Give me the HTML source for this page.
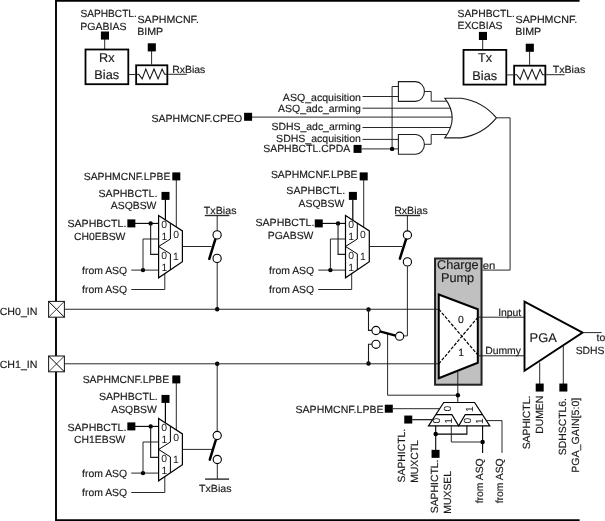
<!DOCTYPE html>
<html><head><meta charset="utf-8"><title>PGA input block diagram</title>
<style>
html,body{margin:0;padding:0;background:#fff;}
body{width:605px;height:521px;overflow:hidden;}
svg{display:block;will-change:transform;font-family:"Liberation Sans",sans-serif;}
svg text{fill:#1a1a1a;stroke:#1a1a1a;stroke-width:0.16px;text-rendering:geometricPrecision;}
svg text.d{stroke:none;}
</style></head><body>
<svg width="605" height="521" viewBox="0 0 605 521">
<rect x="0" y="0" width="605" height="521" fill="#fff"/>
<path d="M579.60,0.90 L56.00,0.90 L56.00,520.25 L579.60,520.25" fill="none" stroke="#000" stroke-width="1.9" stroke-linejoin="miter"/>
<text x="80.43" y="17.00" font-size="10.4" text-anchor="start"  textLength="56.42" lengthAdjust="spacingAndGlyphs">SAPHBCTL.</text>
<text x="80.35" y="30.00" font-size="10.4" text-anchor="start"  textLength="46.13" lengthAdjust="spacingAndGlyphs">PGABIAS</text>
<text x="137.53" y="23.00" font-size="10.4" text-anchor="start"  textLength="61.32" lengthAdjust="spacingAndGlyphs">SAPHMCNF.</text>
<text x="137.15" y="35.00" font-size="10.4" text-anchor="start"  textLength="26.10" lengthAdjust="spacingAndGlyphs">BIMP</text>
<path d="M104.70,39.00 L104.70,49.00" fill="none" stroke="#1c1c1c" stroke-width="0.95" />
<rect x="100.90" y="31.50" width="8.1" height="8.1" fill="#000"/>
<rect x="85.50" y="49.50" width="42.8" height="34.7" fill="#fff" stroke="#000" stroke-width="1.8"/>
<text x="106.75" y="62.00" font-size="12.7" text-anchor="middle" >Rx</text>
<text x="106.71" y="79.00" font-size="12.7" text-anchor="middle" >Bias</text>
<path d="M129.20,74.50 L135.30,74.50" fill="none" stroke="#1c1c1c" stroke-width="0.95" />
<rect x="136.15" y="65.30" width="31.2" height="18.9" fill="#fff" stroke="#000" stroke-width="1.8"/>
<path d="M136.20,74.30 L138.70,74.30 L142.20,78.90 L145.80,69.00 L149.90,78.90 L154.00,69.00 L158.10,78.90 L162.10,69.00 L164.60,74.30 L167.00,74.30" fill="none" stroke="#1c1c1c" stroke-width="1.1" stroke-linejoin="miter"/>
<path d="M151.60,51.00 L151.60,64.50" fill="none" stroke="#1c1c1c" stroke-width="0.95" />
<rect x="147.75" y="43.30" width="8.1" height="8.1" fill="#000"/>
<path d="M168.20,74.30 L186.90,74.30" fill="none" stroke="#1c1c1c" stroke-width="0.95" />
<text x="172.15" y="73.00" font-size="10.4" text-anchor="start"  textLength="33.23" lengthAdjust="spacingAndGlyphs">RxBias</text>
<text x="457.58" y="17.00" font-size="10.4" text-anchor="start"  textLength="57.42" lengthAdjust="spacingAndGlyphs">SAPHBCTL.</text>
<text x="457.50" y="29.00" font-size="10.4" text-anchor="start"  textLength="45.03" lengthAdjust="spacingAndGlyphs">EXCBIAS</text>
<text x="515.53" y="23.00" font-size="10.4" text-anchor="start"  textLength="61.72" lengthAdjust="spacingAndGlyphs">SAPHMCNF.</text>
<text x="515.15" y="35.00" font-size="10.4" text-anchor="start"  textLength="26.10" lengthAdjust="spacingAndGlyphs">BIMP</text>
<path d="M482.70,39.40 L482.70,49.40" fill="none" stroke="#1c1c1c" stroke-width="0.95" />
<rect x="478.90" y="31.90" width="8.1" height="8.1" fill="#000"/>
<rect x="463.50" y="49.90" width="42.8" height="34.7" fill="#fff" stroke="#000" stroke-width="1.8"/>
<text x="485.13" y="62.00" font-size="12.7" text-anchor="middle" >Tx</text>
<text x="484.71" y="80.00" font-size="12.7" text-anchor="middle" >Bias</text>
<path d="M507.20,74.90 L513.30,74.90" fill="none" stroke="#1c1c1c" stroke-width="0.95" />
<rect x="514.15" y="65.70" width="31.2" height="18.9" fill="#fff" stroke="#000" stroke-width="1.8"/>
<path d="M514.20,74.70 L516.70,74.70 L520.20,79.30 L523.80,69.40 L527.90,79.30 L532.00,69.40 L536.10,79.30 L540.10,69.40 L542.60,74.70 L545.00,74.70" fill="none" stroke="#1c1c1c" stroke-width="1.1" stroke-linejoin="miter"/>
<path d="M529.60,51.40 L529.60,64.90" fill="none" stroke="#1c1c1c" stroke-width="0.95" />
<rect x="525.75" y="43.70" width="8.1" height="8.1" fill="#000"/>
<path d="M546.20,74.70 L564.70,74.70" fill="none" stroke="#1c1c1c" stroke-width="0.95" />
<text x="552.67" y="73.00" font-size="10.4" text-anchor="start"  textLength="32.61" lengthAdjust="spacingAndGlyphs">TxBias</text>
<text x="360.88" y="101.00" font-size="10.4" text-anchor="end"  textLength="78.00" lengthAdjust="spacingAndGlyphs">ASQ_acquisition</text>
<text x="360.87" y="112.00" font-size="10.4" text-anchor="end"  textLength="82.89" lengthAdjust="spacingAndGlyphs">ASQ_adc_arming</text>
<text x="360.87" y="130.00" font-size="10.4" text-anchor="end"  textLength="89.44" lengthAdjust="spacingAndGlyphs">SDHS_adc_arming</text>
<text x="360.88" y="142.00" font-size="10.4" text-anchor="end"  textLength="84.75" lengthAdjust="spacingAndGlyphs">SDHS_acquisition</text>
<text x="350.22" y="152.00" font-size="10.4" text-anchor="end"  textLength="86.99" lengthAdjust="spacingAndGlyphs">SAPHBCTL.CPDA</text>
<text x="242.30" y="122.00" font-size="10.4" text-anchor="end"  textLength="90.77" lengthAdjust="spacingAndGlyphs">SAPHMCNF.CPEO</text>
<rect x="244.10" y="112.80" width="8" height="8" fill="#000"/>
<rect x="353.55" y="144.90" width="8" height="8" fill="#000"/>
<path d="M362.50,96.50 L398.40,96.50" fill="none" stroke="#1c1c1c" stroke-width="0.95" />
<path d="M362.50,108.20 L451.80,108.20" fill="none" stroke="#1c1c1c" stroke-width="0.95" />
<path d="M252.00,117.10 L452.30,117.10" fill="none" stroke="#1c1c1c" stroke-width="0.95" />
<path d="M362.50,127.50 L451.80,127.50" fill="none" stroke="#1c1c1c" stroke-width="0.95" />
<path d="M362.50,139.40 L398.40,139.40" fill="none" stroke="#1c1c1c" stroke-width="0.95" />
<path d="M361.60,148.90 L398.40,148.90" fill="none" stroke="#1c1c1c" stroke-width="0.95" />
<path d="M398.40,86.50 L392.10,86.50 L392.10,148.90" fill="none" stroke="#1c1c1c" stroke-width="0.95" />
<circle cx="392.10" cy="148.90" r="2.2" fill="#000"/>
<path d="M398.4,81.6 H415.50 A8.90,9.90 0 0 1 415.50,101.4 H398.4 Z" fill="#fff" stroke="#1c1c1c" stroke-width="1.1"/>
<path d="M398.4,134.5 H415.50 A8.90,9.90 0 0 1 415.50,154.3 H398.4 Z" fill="#fff" stroke="#1c1c1c" stroke-width="1.1"/>
<path d="M424.40,91.50 L431.20,91.50 L431.20,101.20 L447.50,101.20" fill="none" stroke="#1c1c1c" stroke-width="0.95" />
<path d="M424.40,144.30 L431.20,144.30 L431.20,134.50 L447.50,134.50" fill="none" stroke="#1c1c1c" stroke-width="0.95" />
<path d="M444.8,98.2 H461.3 Q483,101.5 496.4,117.9 Q483,134.5 461.3,137.9 H444.8 Q459.6,118 444.8,98.2 Z" fill="#fff" stroke="#1c1c1c" stroke-width="1.1"/>
<path d="M496.40,117.80 L510.10,117.80 L510.10,270.10 L482.50,270.10" fill="none" stroke="#1c1c1c" stroke-width="0.95" />
<text x="170.35" y="180.00" font-size="10.4" text-anchor="end" >SAPHMCNF.LPBE</text>
<path d="M176.30,180.00 L176.30,227.30" fill="none" stroke="#1c1c1c" stroke-width="0.95" />
<rect x="172.30" y="172.40" width="8" height="8" fill="#000"/>
<text x="157.35" y="197.00" font-size="10.4" text-anchor="end"  textLength="58.82" lengthAdjust="spacingAndGlyphs">SAPHBCTL.</text>
<text x="156.44" y="209.00" font-size="10.4" text-anchor="end" >ASQBSW</text>
<path d="M165.40,199.50 L165.40,220.00" fill="none" stroke="#000" stroke-width="1.2" />
<rect x="161.50" y="191.90" width="8" height="8" fill="#000"/>
<text x="126.35" y="227.00" font-size="10.4" text-anchor="end"  textLength="58.92" lengthAdjust="spacingAndGlyphs">SAPHBCTL.</text>
<text x="125.44" y="240.00" font-size="10.4" text-anchor="end" >CH0EBSW</text>
<path d="M131.35,223.40 L158.60,223.40" fill="none" stroke="#000" stroke-width="1.1" />
<rect x="127.35" y="219.40" width="8" height="8" fill="#000"/>
<circle cx="150.65" cy="223.40" r="2.2" fill="#000"/>
<path d="M150.65,223.40 L150.65,254.40 L159.00,254.40" fill="none" stroke="#1c1c1c" stroke-width="1.1" />
<text x="82.10" y="274.00" font-size="10.4" text-anchor="start" >from ASQ</text>
<text x="82.10" y="293.00" font-size="10.4" text-anchor="start" >from ASQ</text>
<path d="M131.25,270.10 L158.60,270.10" fill="none" stroke="#1c1c1c" stroke-width="0.95" />
<circle cx="143.00" cy="270.10" r="2.2" fill="#000"/>
<path d="M143.00,270.10 L143.00,239.00 L158.60,239.00" fill="none" stroke="#1c1c1c" stroke-width="0.95" />
<path d="M131.25,289.50 L164.80,289.50 L164.80,273.50" fill="none" stroke="#1c1c1c" stroke-width="0.95" />
<g transform="translate(158.6,215.4)">
<path d="M0,0 L23.8,15.5 V46.4 L0,62.4 Z" fill="#fff" stroke="#000" stroke-width="1.2" stroke-linejoin="miter"/>
<path d="M11.8,7.7 V23.6 L0,31.1 L11.8,38.5 V54.5" fill="none" stroke="#000" stroke-width="1.0"/>
<text x="5.6" y="12.4" font-size="10.4" text-anchor="middle" class="d">0</text>
<text x="5.7" y="24.4" font-size="10.4" text-anchor="middle" class="d">1</text>
<text x="5.6" y="43.5" font-size="10.4" text-anchor="middle" class="d">0</text>
<text x="5.7" y="55.6" font-size="10.4" text-anchor="middle" class="d">1</text>
<text x="17.5" y="22.3" font-size="10.4" text-anchor="middle" class="d">0</text>
<text x="17.3" y="44.6" font-size="10.4" text-anchor="middle" class="d">1</text>
</g>
<text x="357.55" y="178.00" font-size="10.4" text-anchor="end" >SAPHMCNF.LPBE</text>
<path d="M363.70,180.00 L363.70,227.30" fill="none" stroke="#1c1c1c" stroke-width="0.95" />
<rect x="359.70" y="172.40" width="8" height="8" fill="#000"/>
<text x="345.15" y="194.00" font-size="10.4" text-anchor="end"  textLength="58.82" lengthAdjust="spacingAndGlyphs">SAPHBCTL.</text>
<text x="344.24" y="207.00" font-size="10.4" text-anchor="end" >ASQBSW</text>
<path d="M352.80,199.50 L352.80,220.00" fill="none" stroke="#000" stroke-width="1.2" />
<rect x="348.90" y="191.90" width="8" height="8" fill="#000"/>
<text x="314.35" y="226.00" font-size="10.4" text-anchor="end"  textLength="58.92" lengthAdjust="spacingAndGlyphs">SAPHBCTL.</text>
<text x="313.44" y="239.00" font-size="10.4" text-anchor="end" >PGABSW</text>
<path d="M318.75,223.40 L345.50,223.40" fill="none" stroke="#000" stroke-width="1.1" />
<rect x="314.75" y="219.40" width="8" height="8" fill="#000"/>
<circle cx="338.05" cy="223.40" r="2.2" fill="#000"/>
<path d="M338.05,223.40 L338.05,254.40 L345.90,254.40" fill="none" stroke="#1c1c1c" stroke-width="1.1" />
<text x="269.10" y="274.00" font-size="10.4" text-anchor="start" >from ASQ</text>
<text x="269.10" y="293.00" font-size="10.4" text-anchor="start" >from ASQ</text>
<path d="M318.25,270.10 L345.50,270.10" fill="none" stroke="#1c1c1c" stroke-width="0.95" />
<circle cx="330.40" cy="270.10" r="2.2" fill="#000"/>
<path d="M330.40,270.10 L330.40,239.00 L345.50,239.00" fill="none" stroke="#1c1c1c" stroke-width="0.95" />
<path d="M318.25,289.50 L351.70,289.50 L351.70,273.50" fill="none" stroke="#1c1c1c" stroke-width="0.95" />
<g transform="translate(345.5,215.4)">
<path d="M0,0 L23.8,15.5 V46.4 L0,62.4 Z" fill="#fff" stroke="#000" stroke-width="1.2" stroke-linejoin="miter"/>
<path d="M11.8,7.7 V23.6 L0,31.1 L11.8,38.5 V54.5" fill="none" stroke="#000" stroke-width="1.0"/>
<text x="5.6" y="12.4" font-size="10.4" text-anchor="middle" class="d">0</text>
<text x="5.7" y="24.4" font-size="10.4" text-anchor="middle" class="d">1</text>
<text x="5.6" y="43.5" font-size="10.4" text-anchor="middle" class="d">0</text>
<text x="5.7" y="55.6" font-size="10.4" text-anchor="middle" class="d">1</text>
<text x="17.5" y="22.3" font-size="10.4" text-anchor="middle" class="d">0</text>
<text x="17.3" y="44.6" font-size="10.4" text-anchor="middle" class="d">1</text>
</g>
<text x="169.25" y="383.00" font-size="10.4" text-anchor="end" >SAPHMCNF.LPBE</text>
<path d="M176.30,383.00 L176.30,430.30" fill="none" stroke="#1c1c1c" stroke-width="0.95" />
<rect x="172.30" y="375.40" width="8" height="8" fill="#000"/>
<text x="157.75" y="400.00" font-size="10.4" text-anchor="end"  textLength="58.82" lengthAdjust="spacingAndGlyphs">SAPHBCTL.</text>
<text x="156.84" y="413.00" font-size="10.4" text-anchor="end" >ASQBSW</text>
<path d="M165.40,402.50 L165.40,423.00" fill="none" stroke="#000" stroke-width="1.2" />
<rect x="161.50" y="394.90" width="8" height="8" fill="#000"/>
<text x="126.35" y="431.00" font-size="10.4" text-anchor="end"  textLength="58.92" lengthAdjust="spacingAndGlyphs">SAPHBCTL.</text>
<text x="125.44" y="443.00" font-size="10.4" text-anchor="end" >CH1EBSW</text>
<path d="M131.35,426.40 L158.60,426.40" fill="none" stroke="#000" stroke-width="1.1" />
<rect x="127.35" y="422.40" width="8" height="8" fill="#000"/>
<circle cx="150.65" cy="426.40" r="2.2" fill="#000"/>
<path d="M150.65,426.40 L150.65,457.40 L159.00,457.40" fill="none" stroke="#1c1c1c" stroke-width="1.1" />
<text x="82.10" y="477.00" font-size="10.4" text-anchor="start" >from ASQ</text>
<text x="82.10" y="496.00" font-size="10.4" text-anchor="start" >from ASQ</text>
<path d="M131.25,473.10 L158.60,473.10" fill="none" stroke="#1c1c1c" stroke-width="0.95" />
<circle cx="143.00" cy="473.10" r="2.2" fill="#000"/>
<path d="M143.00,473.10 L143.00,442.00 L158.60,442.00" fill="none" stroke="#1c1c1c" stroke-width="0.95" />
<path d="M131.25,492.50 L164.80,492.50 L164.80,476.50" fill="none" stroke="#1c1c1c" stroke-width="0.95" />
<g transform="translate(158.6,418.4)">
<path d="M0,0 L23.8,15.5 V46.4 L0,62.4 Z" fill="#fff" stroke="#000" stroke-width="1.2" stroke-linejoin="miter"/>
<path d="M11.8,7.7 V23.6 L0,31.1 L11.8,38.5 V54.5" fill="none" stroke="#000" stroke-width="1.0"/>
<text x="5.6" y="12.4" font-size="10.4" text-anchor="middle" class="d">0</text>
<text x="5.7" y="24.4" font-size="10.4" text-anchor="middle" class="d">1</text>
<text x="5.6" y="43.5" font-size="10.4" text-anchor="middle" class="d">0</text>
<text x="5.7" y="55.6" font-size="10.4" text-anchor="middle" class="d">1</text>
<text x="17.5" y="22.3" font-size="10.4" text-anchor="middle" class="d">0</text>
<text x="17.3" y="44.6" font-size="10.4" text-anchor="middle" class="d">1</text>
</g>
<text x="203.87" y="214.00" font-size="10.4" text-anchor="start"  textLength="32.61" lengthAdjust="spacingAndGlyphs">TxBias</text>
<path d="M204.80,215.50 L229.30,215.50" fill="none" stroke="#2a2a2a" stroke-width="1.4" />
<path d="M217.20,215.70 L217.20,231.00" fill="none" stroke="#1c1c1c" stroke-width="0.95" />
<path d="M182.40,246.50 L211.50,246.50" fill="none" stroke="#1c1c1c" stroke-width="0.95" />
<path d="M217.20,263.00 L217.20,309.30" fill="none" stroke="#1c1c1c" stroke-width="0.95" />
<path d="M215.30,239.30 L209.30,258.80" fill="none" stroke="#000" stroke-width="2.5" stroke-linecap="round"/>
<circle cx="217.10" cy="234.90" r="4.1" fill="#fff" stroke="#000" stroke-width="1.1"/>
<circle cx="217.10" cy="258.40" r="4.1" fill="#fff" stroke="#000" stroke-width="1.1"/>
<circle cx="217.20" cy="309.30" r="2.25" fill="#000"/>
<text x="394.15" y="214.00" font-size="10.4" text-anchor="start"  textLength="33.63" lengthAdjust="spacingAndGlyphs">RxBias</text>
<path d="M395.20,215.50 L420.20,215.50" fill="none" stroke="#2a2a2a" stroke-width="1.4" />
<path d="M407.40,215.70 L407.40,231.00" fill="none" stroke="#1c1c1c" stroke-width="0.95" />
<path d="M369.30,246.50 L402.00,246.50" fill="none" stroke="#1c1c1c" stroke-width="0.95" />
<path d="M406.00,239.30 L399.90,258.60" fill="none" stroke="#000" stroke-width="2.5" stroke-linecap="round"/>
<circle cx="407.40" cy="235.00" r="4.1" fill="#fff" stroke="#000" stroke-width="1.1"/>
<circle cx="407.40" cy="261.90" r="4.1" fill="#fff" stroke="#000" stroke-width="1.1"/>
<path d="M407.40,266.30 L407.40,335.90 L404.00,335.90" fill="none" stroke="#1c1c1c" stroke-width="0.95" />
<path d="M217.20,363.70 L217.20,431.30" fill="none" stroke="#1c1c1c" stroke-width="0.95" />
<circle cx="217.20" cy="363.70" r="2.25" fill="#000"/>
<path d="M182.40,449.40 L212.00,449.40" fill="none" stroke="#1c1c1c" stroke-width="0.95" />
<path d="M215.70,440.30 L209.80,459.60" fill="none" stroke="#000" stroke-width="2.5" stroke-linecap="round"/>
<circle cx="217.20" cy="435.50" r="4.1" fill="#fff" stroke="#000" stroke-width="1.1"/>
<circle cx="217.30" cy="459.50" r="4.1" fill="#fff" stroke="#000" stroke-width="1.1"/>
<path d="M217.30,464.00 L217.30,479.10" fill="none" stroke="#1c1c1c" stroke-width="0.95" />
<path d="M205.10,479.10 L229.10,479.10" fill="none" stroke="#2a2a2a" stroke-width="1.4" />
<text x="198.97" y="492.00" font-size="10.4" text-anchor="start"  textLength="32.61" lengthAdjust="spacingAndGlyphs">TxBias</text>
<text x="-0.33" y="315.00" font-size="10.4" text-anchor="start"  textLength="37.78" lengthAdjust="spacingAndGlyphs">CH0_IN</text>
<text x="-0.33" y="368.00" font-size="10.4" text-anchor="start"  textLength="37.78" lengthAdjust="spacingAndGlyphs">CH1_IN</text>
<rect x="48.6" y="301.4" width="15.8" height="15.8" fill="#fff" stroke="#1c1c1c" stroke-width="1.05"/>
<path d="M48.60,301.40 L64.40,317.20" fill="none" stroke="#000" stroke-width="1.0" />
<path d="M64.40,301.40 L48.60,317.20" fill="none" stroke="#1c1c1c" stroke-width="0.85" />
<rect x="48.6" y="356.0" width="15.8" height="15.8" fill="#fff" stroke="#1c1c1c" stroke-width="1.05"/>
<path d="M48.60,356.00 L64.40,371.80" fill="none" stroke="#000" stroke-width="1.0" />
<path d="M64.40,356.00 L48.60,371.80" fill="none" stroke="#1c1c1c" stroke-width="0.85" />
<circle cx="368.50" cy="309.40" r="2.25" fill="#000"/>
<circle cx="368.50" cy="363.60" r="2.25" fill="#000"/>
<path d="M368.50,309.40 L368.50,330.40 L372.00,330.40" fill="none" stroke="#1c1c1c" stroke-width="1.1" />
<path d="M368.50,363.60 L368.50,344.30 L372.00,344.30" fill="none" stroke="#1c1c1c" stroke-width="1.1" />
<path d="M387.60,333.50 L387.60,395.20 L458.00,395.20" fill="none" stroke="#1c1c1c" stroke-width="0.95" />
<path d="M379.80,331.40 L395.60,335.60" fill="none" stroke="#000" stroke-width="2.5" stroke-linecap="round"/>
<circle cx="376.00" cy="330.50" r="4.1" fill="#fff" stroke="#000" stroke-width="1.1"/>
<circle cx="376.00" cy="344.30" r="4.1" fill="#fff" stroke="#000" stroke-width="1.1"/>
<circle cx="399.60" cy="336.20" r="4.1" fill="#fff" stroke="#000" stroke-width="1.1"/>
<rect x="435.05" y="258.5" width="46.5" height="126.2" fill="#c0c0c0" stroke="#222" stroke-width="2"/>
<path d="M64.50,309.25 L439.00,309.25" fill="none" stroke="#1c1c1c" stroke-width="0.95" />
<path d="M64.50,363.80 L439.00,363.80" fill="none" stroke="#1c1c1c" stroke-width="0.95" />
<text x="457.81" y="269.00" font-size="12.7" text-anchor="middle" >Charge</text>
<text x="457.60" y="282.00" font-size="12.7" text-anchor="middle" >Pump</text>
<path d="M438.75,294.5 L477.8,309.3 V362.8 L438.75,378.3 Z" fill="#fff" stroke="#000" stroke-width="2"/>
<path d="M438.75,309.15 L477.80,354.90" fill="none" stroke="#000" stroke-width="1.2" stroke-dasharray="3.3,1.5"/>
<path d="M438.75,363.90 L477.80,317.40" fill="none" stroke="#000" stroke-width="1.2" stroke-dasharray="3.3,1.5"/>
<text x="461.00" y="323.00" font-size="10.4" text-anchor="middle" >0</text>
<text x="461.26" y="356.00" font-size="10.4" text-anchor="middle" >1</text>
<text x="482.76" y="269.00" font-size="10.4" text-anchor="start"  textLength="12.62" lengthAdjust="spacingAndGlyphs">en</text>
<path d="M457.80,371.50 L457.80,402.40" fill="none" stroke="#1c1c1c" stroke-width="0.95" />
<circle cx="457.90" cy="395.20" r="2.2" fill="#000"/>
<path d="M478.50,317.20 L524.50,317.20" fill="none" stroke="#1c1c1c" stroke-width="0.95" />
<path d="M478.50,355.80 L524.50,355.80" fill="none" stroke="#1c1c1c" stroke-width="0.95" />
<text x="498.14" y="316.00" font-size="10.4" text-anchor="start" >Input</text>
<text x="485.15" y="354.00" font-size="10.4" text-anchor="start" >Dummy</text>
<path d="M539.70,362.50 L539.70,384.00" fill="none" stroke="#1c1c1c" stroke-width="0.95" />
<path d="M563.30,346.00 L563.30,384.00" fill="none" stroke="#1c1c1c" stroke-width="0.95" />
<path d="M524.5,301.6 L582.6,332.6 L524.5,370.8 Z" fill="#fff" stroke="#000" stroke-width="1.9" stroke-linejoin="miter"/>
<text x="543.14" y="342.00" font-size="12.7" text-anchor="middle"  textLength="27.17" lengthAdjust="spacingAndGlyphs">PGA</text>
<path d="M583.00,332.60 L601.70,332.60" fill="none" stroke="#1c1c1c" stroke-width="0.95" />
<text x="596.54" y="341.00" font-size="10.4" text-anchor="start" >to</text>
<text x="575.63" y="354.00" font-size="10.4" text-anchor="start" >SDHS</text>
<rect x="535.70" y="383.55" width="8" height="8" fill="#000"/>
<rect x="559.35" y="383.55" width="8" height="8" fill="#000"/>
<text x="530.00" y="395.65" font-size="10.4" text-anchor="end" transform="rotate(-90 530.00 395.65)" >SAPHICTL.</text>
<text x="543.00" y="395.75" font-size="10.4" text-anchor="end" transform="rotate(-90 543.00 395.75)" >DUMEN</text>
<text x="566.00" y="398.05" font-size="10.4" text-anchor="end" transform="rotate(-90 566.00 398.05)" >SDHSCTL6.</text>
<text x="579.00" y="397.66" font-size="10.4" text-anchor="end" transform="rotate(-90 579.00 397.66)"  textLength="75.19" lengthAdjust="spacingAndGlyphs">PGA_GAIN[5:0]</text>
<text x="383.55" y="413.00" font-size="10.4" text-anchor="end"  textLength="88.02" lengthAdjust="spacingAndGlyphs">SAPHMCNF.LPBE</text>
<path d="M392.90,408.70 L439.70,408.70" fill="none" stroke="#1c1c1c" stroke-width="0.95" />
<rect x="384.80" y="404.70" width="8" height="8" fill="#000"/>
<path d="M412.20,419.70 L432.40,419.70" fill="none" stroke="#000" stroke-width="1.1" />
<rect x="404.25" y="415.55" width="8" height="8" fill="#000"/>
<path d="M443.7,402.5 H474.6 L489.8,425.8 H428.5 Z" fill="#fff" stroke="#000" stroke-width="1.2"/>
<path d="M436.0,414.6 H451.9 L458.7,425.8 L465.2,414.6 H482.5" fill="none" stroke="#000" stroke-width="1.1"/>
<text x="450.6" y="408.6" font-size="10.4" text-anchor="middle" class="d" transform="rotate(-90 450.6 408.6)">0</text>
<text x="472.5" y="409.0" font-size="10.4" text-anchor="middle" class="d" transform="rotate(-90 472.5 409.0)">1</text>
<text x="440.2" y="420.6" font-size="10.4" text-anchor="middle" class="d" transform="rotate(-90 440.2 420.6)">0</text>
<text x="451.7" y="420.9" font-size="10.4" text-anchor="middle" class="d" transform="rotate(-90 451.7 420.9)">1</text>
<text x="471.2" y="420.6" font-size="10.4" text-anchor="middle" class="d" transform="rotate(-90 471.2 420.6)">0</text>
<text x="483.0" y="421.1" font-size="10.4" text-anchor="middle" class="d" transform="rotate(-90 483.0 421.1)">1</text>
<path d="M435.70,425.80 L435.70,450.00" fill="none" stroke="#000" stroke-width="1.1" />
<circle cx="435.70" cy="434.10" r="2.25" fill="#000"/>
<path d="M435.70,434.10 L466.90,434.10 L466.90,425.80" fill="none" stroke="#000" stroke-width="1.1" />
<rect x="431.55" y="449.85" width="8" height="8" fill="#000"/>
<path d="M451.30,425.80 L451.30,442.00 L482.60,442.00" fill="none" stroke="#1c1c1c" stroke-width="0.95" />
<path d="M482.60,425.80 L482.60,452.90" fill="none" stroke="#000" stroke-width="1.1" />
<circle cx="482.60" cy="442.10" r="2.25" fill="#000"/>
<path d="M486.40,420.60 L502.00,420.60 L502.00,452.90" fill="none" stroke="#1c1c1c" stroke-width="0.95" />
<text x="405.00" y="482.47" font-size="10.4" text-anchor="start" transform="rotate(-90 405.00 482.47)" >SAPHICTL.</text>
<text x="418.00" y="482.85" font-size="10.4" text-anchor="start" transform="rotate(-90 418.00 482.85)" >MUXCTL</text>
<text x="438.00" y="513.27" font-size="10.4" text-anchor="start" transform="rotate(-90 438.00 513.27)" >SAPHICTL.</text>
<text x="451.00" y="513.65" font-size="10.4" text-anchor="start" transform="rotate(-90 451.00 513.65)" >MUXSEL</text>
<text x="483.00" y="503.35" font-size="10.4" text-anchor="start" transform="rotate(-90 483.00 503.35)" >from ASQ</text>
<text x="503.00" y="503.35" font-size="10.4" text-anchor="start" transform="rotate(-90 503.00 503.35)" >from ASQ</text>
</svg>
</body></html>
